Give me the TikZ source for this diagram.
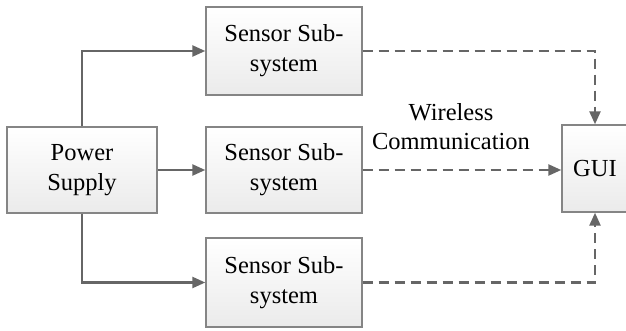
\documentclass[tikz,border=0pt]{standalone}
\usepackage{fontspec}
\setmainfont{Liberation Serif}
\usetikzlibrary{arrows.meta}
\begin{document}
\begin{tikzpicture}[x=1pt,y=-1pt,
  blk/.style={draw=black!48, line width=1.4pt, top color=white, bottom color=black!8,
    align=center, font=\fontsize{24.5}{30}\selectfont, inner sep=0pt},
  conn/.style={draw=black!60, line width=2.4pt, -{Triangle[length=13pt,width=11pt]}},
  wl/.style={conn, dash pattern=on 10pt off 6pt}]
\clip (0,0) rectangle (626,331);
\useasboundingbox (0,0) rectangle (626,331);
\node[blk, minimum width=156pt, minimum height=88pt] (s1) at (284,51) {Sensor Sub-\\system};
\node[blk, minimum width=156pt, minimum height=86pt] (s2) at (284,170) {Sensor Sub-\\system};
\node[blk, minimum width=156pt, minimum height=89pt] (s3) at (284,282.5) {Sensor Sub-\\system};
\node[blk, minimum width=150pt, minimum height=86pt] (pw) at (82,170) {Power\\Supply};
\node[blk, minimum width=66pt, minimum height=87pt] (gui) at (595,168.5) {GUI};
\node[align=center, font=\fontsize{24.5}{29}\selectfont, inner sep=0pt] (wlab) at (451,127) {Wireless\\Communication};
\draw[conn] (pw.north) |- (s1.west);
\draw[conn] (pw.east) -- (s2.west);
\draw[conn] (pw.south) |- (s3.west);
\draw[wl] (s1.east) -| (gui.north);
\draw[wl] (s2.east) -- (s2.east -| gui.west);
\draw[wl] (s3.east) -| (gui.south);
\end{tikzpicture}
\end{document}
